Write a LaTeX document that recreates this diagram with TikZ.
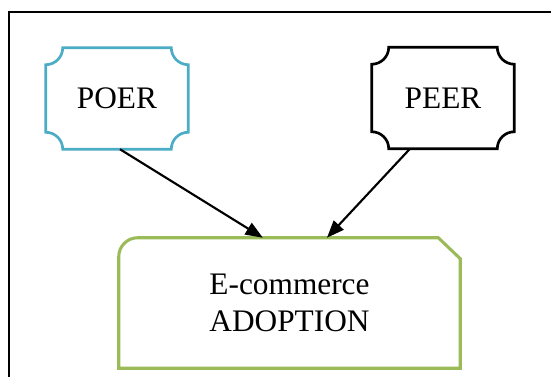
\documentclass[tikz,border=0pt]{standalone}
\usepackage{fontspec}
\setmainfont{Liberation Serif}
\usetikzlibrary{arrows.meta,calc}

\definecolor{poerblue}{HTML}{4BACC6}
\definecolor{ecogreen}{HTML}{9BBB59}

% outline with concave (inward) quarter-circle corners around a node
\newcommand{\concaveoutline}[3]{%
  \draw[#2] ([xshift=#3]#1.north west) -- ([xshift=-#3]#1.north east)
    arc[start angle=180, end angle=270, radius=#3]
    -- ([yshift=#3]#1.south east)
    arc[start angle=90, end angle=180, radius=#3]
    -- ([xshift=#3]#1.south west)
    arc[start angle=0, end angle=90, radius=#3]
    -- ([yshift=-#3]#1.north west)
    arc[start angle=270, end angle=360, radius=#3]
    -- cycle;}

\tikzset{
  label text/.style={font=\fontsize{23.5}{27.75}\selectfont, align=center, inner sep=0pt},
  factorbox/.style={label text, minimum width=106.5pt, minimum height=75.75pt},
  adoptbox/.style={label text, minimum width=255.75pt, minimum height=97.5pt},
  link/.style={line width=1.6pt, -{Triangle[length=13pt, width=10pt]}},
}

\begin{document}
\begin{tikzpicture}[x=0.75pt, y=0.75pt]
  \useasboundingbox (0,0) rectangle (551,377);

  % frame
  \draw[line width=1.4pt] (9,-2) -- (9,365) -- (553,365);

  % nodes
  \node[factorbox] (poer) at (117,278.5) {POER};
  \node[factorbox] (peer) at (443,279) {PEER};
  \node[adoptbox] (eco) at (289.5,74) {E-commerce\\ADOPTION};

  % outlines
  \concaveoutline{poer}{poerblue, line width=2pt}{12.75pt}
  \concaveoutline{peer}{black, line width=2pt}{12.75pt}
  \draw[ecogreen, line width=2.3pt]
    (eco.south west) -- ([yshift=-14.25pt]eco.north west)
    arc[start angle=180, end angle=90, radius=14.25pt]
    -- ([xshift=-16.5pt]eco.north east)
    -- ([yshift=-15.75pt]eco.north east)
    -- (eco.south east) -- cycle;

  % connectors
  \draw[link] ([xshift=2.25pt]poer.south) -- ([xshift=-20pt]eco.north);
  \draw[link] ([xshift=-24.75pt]peer.south) -- ([xshift=28.1pt]eco.north);
\end{tikzpicture}
\end{document}
